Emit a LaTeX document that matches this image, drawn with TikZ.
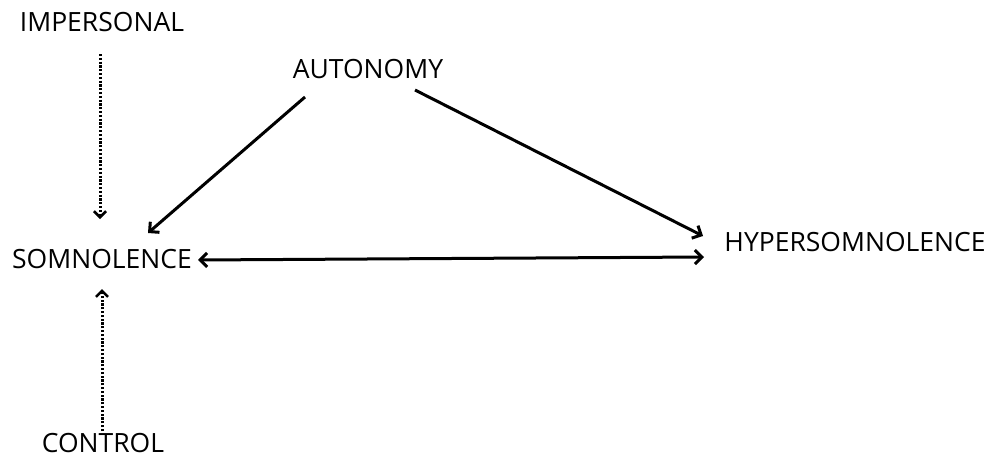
\documentclass[tikz,border=0pt]{standalone}
\usepackage{fontspec}
\setmainfont{Open Sans}
\usetikzlibrary{arrows.meta,calc}
\begin{document}
\begin{tikzpicture}[x=1pt,y=-1pt,
  lbl/.style={inner sep=0pt,font=\fontsize{26.5}{26.5}\selectfont,text=black},
  conn/.style={line width=3pt,-{Straight Barb[length=7pt,width=14pt,line width=3pt]}},
  dotconn/.style={line width=3pt,dash pattern=on 2.2pt off 1.6pt,-{Straight Barb[length=6pt,width=12pt,line width=2.6pt]}},
  both/.style={line width=3pt,{Straight Barb[length=7pt,width=14pt,line width=3pt]}-{Straight Barb[length=7pt,width=14pt,line width=3pt]}}]
\fill[white] (0,0) rectangle (1002,458);
\useasboundingbox (0,0) rectangle (1002,458);
\node[lbl] (imp) at (102,22) {IMPERSONAL};
\node[lbl] (auto) at (368,69) {AUTONOMY};
\node[lbl] (som) at (102,259) {SOMNOLENCE};
\node[lbl] (hyp) at (855,242) {HYPERSOMNOLENCE};
\node[lbl] (ctrl) at (103,443) {CONTROL};
\draw[dotconn] ($(imp.center)+(-2,32)$) -- ($(som.center)+(-2,-40)$);
\draw[dotconn] ($(ctrl.center)+(-1,-12)$) -- ($(som.center)+(0,30)$);
\draw[conn] ($(auto.center)+(-63,28)$) -- ($(som.center)+(46,-26)$);
\draw[conn] ($(auto.center)+(47,21)$) -- ($(hyp.center)+(-152,-6)$);
\draw[both] ($(som.center)+(96,1)$) -- ($(hyp.center)+(-151,15)$);
\end{tikzpicture}
\end{document}
